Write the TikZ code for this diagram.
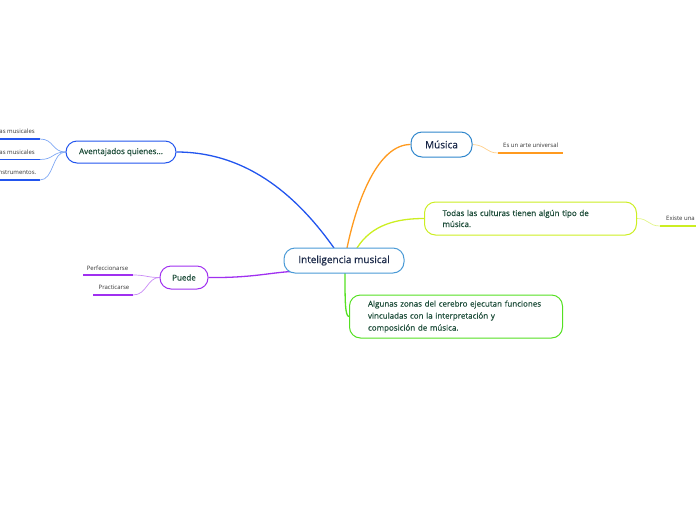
\documentclass[tikz,border=0pt]{standalone}
\usepackage{fontspec}
\setmainfont{Open Sans}
\newfontfamily\semib{Open Sans}[FakeBold=0.5]
\usetikzlibrary{backgrounds}
\definecolor{navy}{HTML}{1A2848}
\definecolor{dgreen}{HTML}{1E4D3A}
\definecolor{cblue}{HTML}{4A9AD6}
\definecolor{mblue}{HTML}{2F86CC}
\definecolor{bblue}{HTML}{2255EE}
\definecolor{lblue}{HTML}{7FA8F4}
\definecolor{orng}{HTML}{FF9A1F}
\definecolor{lorng}{HTML}{FFCF8A}
\definecolor{ygreen}{HTML}{CCEE22}
\definecolor{lygreen}{HTML}{E2F58A}
\definecolor{ggreen}{HTML}{55E022}
\definecolor{purp}{HTML}{A030F0}
\definecolor{lpurp}{HTML}{C98AF6}
\begin{document}
\begin{tikzpicture}[x=1pt,y=-1pt,
  box/.style={draw, line width=1pt, rounded corners=11pt, fill=white, inner sep=0pt},
  leaf/.style={font=\fontsize{6}{7}\selectfont, text=black!80, inner sep=0pt},
  thin/.style={line width=0.7pt},
  uline/.style={line width=1.4pt},
  conn/.style={line width=1.3pt}]
\useasboundingbox (0,0) rectangle (696,520);
\begin{scope}
\clip (0,0) rectangle (696,520);
% main nodes
\node[box, draw=cblue, minimum width=120pt, minimum height=25pt, text=navy,
  font=\semib\fontsize{10}{12}\selectfont] (c) at (344,260.5) {Inteligencia musical};
\node[box, draw=mblue, minimum width=61pt, minimum height=25pt, text=navy,
  font=\semib\fontsize{10}{12}\selectfont] (m) at (441.5,144.5) {Música};
\node[box, draw=ygreen, anchor=west, inner xsep=18pt, minimum height=33pt,
  text width=176pt, align=left, text=dgreen,
  font=\semib\fontsize{8}{11}\selectfont] (t) at (424,218.5) {Todas las culturas tienen algún tipo de\\música.};
\node[box, draw=ggreen, anchor=west, inner xsep=18.5pt, minimum height=43pt,
  text width=176pt, align=left, text=dgreen,
  font=\semib\fontsize{8}{12}\selectfont] (a) at (349,316.5) {Algunas zonas del cerebro ejecutan funciones\\vinculadas con la interpretación y\\composición de música.};
\node[box, draw=bblue, minimum width=110pt, minimum height=22pt, text=dgreen,
  font=\semib\fontsize{8}{10}\selectfont] (av) at (121,152) {Aventajados quienes...};
\node[box, draw=purp, minimum width=48pt, minimum height=23pt, text=dgreen,
  font=\semib\fontsize{8}{10}\selectfont] (p) at (184,277.5) {Puede};
% leaf labels
\node[leaf, anchor=base east] (l1) at (35,133.5) {as musicales};
\node[leaf, anchor=base east] (l2) at (35,154) {as musicales};
\node[leaf, anchor=base east] (l3) at (36.5,174.5) {nstrumentos.};
\node[leaf, anchor=base] (pf) at (107.5,270) {Perfeccionarse};
\node[leaf, anchor=base] (pr) at (114,289.5) {Practicarse};
\node[leaf, anchor=base west] (es) at (503,147.5) {Es un arte universal};
\node[leaf, anchor=base west] (ex) at (666,220.5) {Existe una};
% underline coordinates
\coordinate (u1a) at (0,139); \coordinate (u1b) at (40,139);
\coordinate (u2a) at (0,159.5); \coordinate (u2b) at (40,159.5);
\coordinate (u3a) at (0,180); \coordinate (u3b) at (40,180);
\coordinate (upfa) at (83,275); \coordinate (upfb) at (133,275);
\coordinate (upra) at (93,295); \coordinate (uprb) at (133,295);
\coordinate (uesa) at (498,153); \coordinate (uesb) at (563,153);
\coordinate (uexa) at (660,226); \coordinate (uexb) at (700,226);
\coordinate (cb) at (334,248);
\coordinate (co) at (347,248);
\coordinate (cy) at (357,248);
\coordinate (cg) at (345,273);
\coordinate (cp) at (291,271.5);
\begin{scope}[on background layer]
\draw[uline, bblue] (u1a) -- (u1b);
\draw[uline, bblue] (u2a) -- (u2b);
\draw[uline, bblue] (u3a) -- (u3b);
\draw[uline, purp] (upfa) -- (upfb);
\draw[uline, purp] (upra) -- (uprb);
\draw[uline, orng] (uesa) -- (uesb);
\draw[uline, ygreen] (uexa) -- (uexb);
% thin child connectors
\draw[thin, lblue] (av.west) .. controls (52,152) and (54,139) .. (u1b);
\draw[thin, lblue] (av.west) .. controls (52,152) and (54,159.5) .. (u2b);
\draw[thin, lblue] (av.west) .. controls (52,152) and (54,180) .. (u3b);
\draw[thin, lpurp] (p.west) .. controls (147,277.5) and (146,275) .. (upfb);
\draw[thin, lpurp] (p.west) .. controls (147,277.5) and (147,295) .. (uprb);
\draw[thin, lorng] (m.east) .. controls (486,145) and (486,153) .. (uesa);
\draw[thin, lygreen] (t.east) .. controls (649,218.5) and (648,226) .. (uexa);
% main connectors
\draw[conn, bblue] (av.east) .. controls (250,152) and (300,200) .. (cb);
\draw[conn, orng] (m.west) .. controls (378,144.5) and (357,200) .. (co);
\draw[conn, ygreen] (t.west) .. controls (398,218.5) and (372,224) .. (cy);
\draw[conn, ggreen] (cg) .. controls (345,300) and (345,316.5) .. (a.west);
\draw[conn, purp] (p.east) .. controls (250,278) and (268,273) .. (cp);
\end{scope}
\end{scope}
\end{tikzpicture}
\end{document}
